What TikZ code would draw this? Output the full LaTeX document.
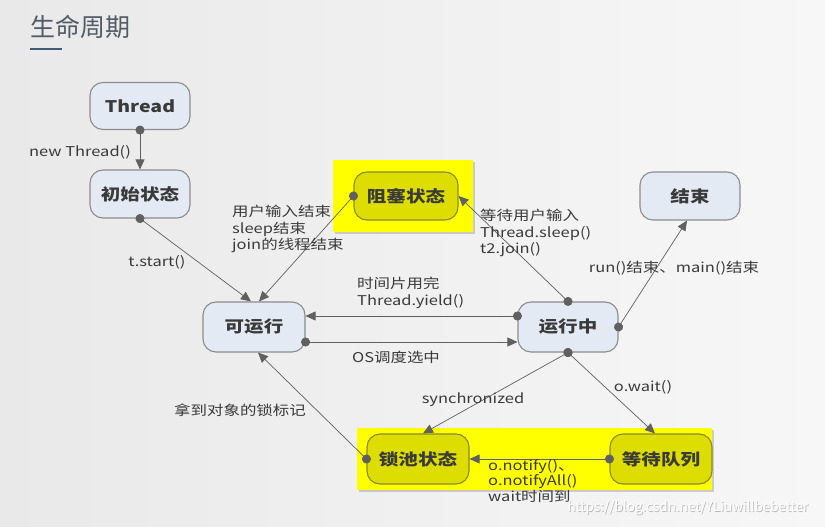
\documentclass[tikz,border=0pt]{standalone}
\usepackage{fontspec}
\setmainfont{Noto Sans CJK SC}[FakeStretch=1.22]
\newfontfamily\plainfont{Noto Sans CJK SC}
\usetikzlibrary{arrows.meta,calc,shadows}
\definecolor{bgl}{HTML}{E9E9E9}
\definecolor{bgr}{HTML}{F7F7F7}
\definecolor{nodefill}{HTML}{E4EAF4}
\definecolor{nodedraw}{HTML}{8C8C8C}
\definecolor{yelbg}{HTML}{FFFF00}
\definecolor{yelnode}{HTML}{DDDD00}
\definecolor{yeldraw}{HTML}{8A8A2A}
\definecolor{linec}{HTML}{606060}
\definecolor{txt}{HTML}{3A3A3A}
\definecolor{titlec}{HTML}{525C66}
\definecolor{ulc}{HTML}{3F5C7A}
\begin{document}
\begin{tikzpicture}[x=1pt,y=-1pt,
  state/.style={draw=nodedraw, line width=1.1pt, fill=nodefill, rounded corners=13pt,
    minimum width=100pt, minimum height=48pt, text=txt, font=\fontsize{16}{18}\selectfont\bfseries},
  ystate/.style={state, fill=yelnode, draw=yeldraw},
  ybg/.style={fill=yelbg, draw=none, drop shadow={shadow xshift=1.5pt, shadow yshift=-1.5pt, opacity=0.35}},
  conn/.style={draw=linec, line width=0.7pt, {Circle[length=9pt]}-{Triangle[length=10pt,width=9pt]}, shorten <=-4.5pt},
  lbl/.style={text=txt, font=\fontsize{13.5}{16.5}\selectfont, inner sep=0pt},
  wmark/.style={inner sep=0pt, font=\plainfont\fontsize{13.5}{15}\selectfont}
]
\useasboundingbox (0,0) rectangle (825,527);
\shade[left color=bgl, right color=bgr] (0,0) rectangle (825,527);

% title
\node[anchor=west, inner sep=0pt, text=titlec, font=\plainfont\fontsize{25}{28}\selectfont] (title) at (30,27) {生命周期};
\draw[ulc, line width=2pt] (30,49) -- (62,49);

% yellow backgrounds
\node[ybg, minimum width=140pt, minimum height=72pt] (blkbg) at (403,196) {};
\node[ybg, minimum width=355pt, minimum height=62pt] (lockbg) at (534.5,459) {};

% states
\node[state, minimum height=47pt] (thread) at (140,106) {Thread};
\node[state] (init) at (140,194) {初始状态};
\node[ystate, minimum width=104pt] (block) at (406,196) {阻塞状态};
\node[state] (end) at (690,196) {结束};
\node[state, minimum width=102pt, minimum height=50pt] (ready) at (254,327) {可运行};
\node[state, minimum height=50pt] (running) at (568,327) {运行中};
\node[ystate, minimum width=102pt, minimum height=50pt] (lock) at (418,459) {锁池状态};
\node[ystate, minimum width=102pt, minimum height=50pt] (wait) at (661,459) {等待队列};

% connectors
\draw[conn] (thread.south) -- (init.north);
\draw[conn] (init.south) -- ($(ready.north)+(-3,0)$);
\draw[conn] (block.west) -- ($(ready.north)+(5,0)$);
\draw[conn] (running.north) -- (block.east);
\draw[conn] (running.east) -- ($(end.south)+(-3,0)$);
\draw[conn] ($(running.west)+(0,-11)$) -- ($(ready.east)+(0,-11)$);
\draw[conn] ($(ready.east)+(0,15)$) -- ($(running.west)+(0,15)$);
\draw[conn] (running.south) -- ($(lock.north)+(5,0)$);
\draw[conn] (running.south) -- ($(wait.north)+(-6,0)$);
\draw[conn] (wait.west) -- (lock.east);
\draw[conn] (lock.west) -- ($(ready.south)+(4,0)$);

% labels
\node[lbl] (l1) at (80,152) {new Thread()};
\node[lbl] (l2) at (157,262) {t.start()};
\node[lbl, anchor=north west, align=left] (l3) at (232,205) {用户输入结束\\sleep结束\\join的线程结束};
\node[lbl, anchor=north west, align=left] (l4) at (480,209) {等待用户输入\\Thread.sleep()\\t2.join()};
\node[lbl] (l5) at (674,268) {run()结束、main()结束};
\node[lbl, anchor=north west, align=left] (l6) at (357,277) {时间片用完\\Thread.yield()};
\node[lbl] (l7) at (396,357) {OS调度选中};
\node[lbl] (l8) at (473,400) {synchronized};
\node[lbl] (l9) at (643,387) {o.wait()};
\node[lbl, anchor=north west, align=left, font=\fontsize{13.5}{15.5}\selectfont] (l10) at (488,459) {o.notify()、\\o.notifyAll()\\wait时间到};
\node[lbl] (l11) at (240,410) {拿到对象的锁标记};
\node[wmark, text=gray!55] (wmshadow) at (688.8,508.8) {https://blog.csdn.net/YLiuwillbebetter};
\node[wmark, text=white] (wm) at (688,508) {https://blog.csdn.net/YLiuwillbebetter};
\end{tikzpicture}
\end{document}
